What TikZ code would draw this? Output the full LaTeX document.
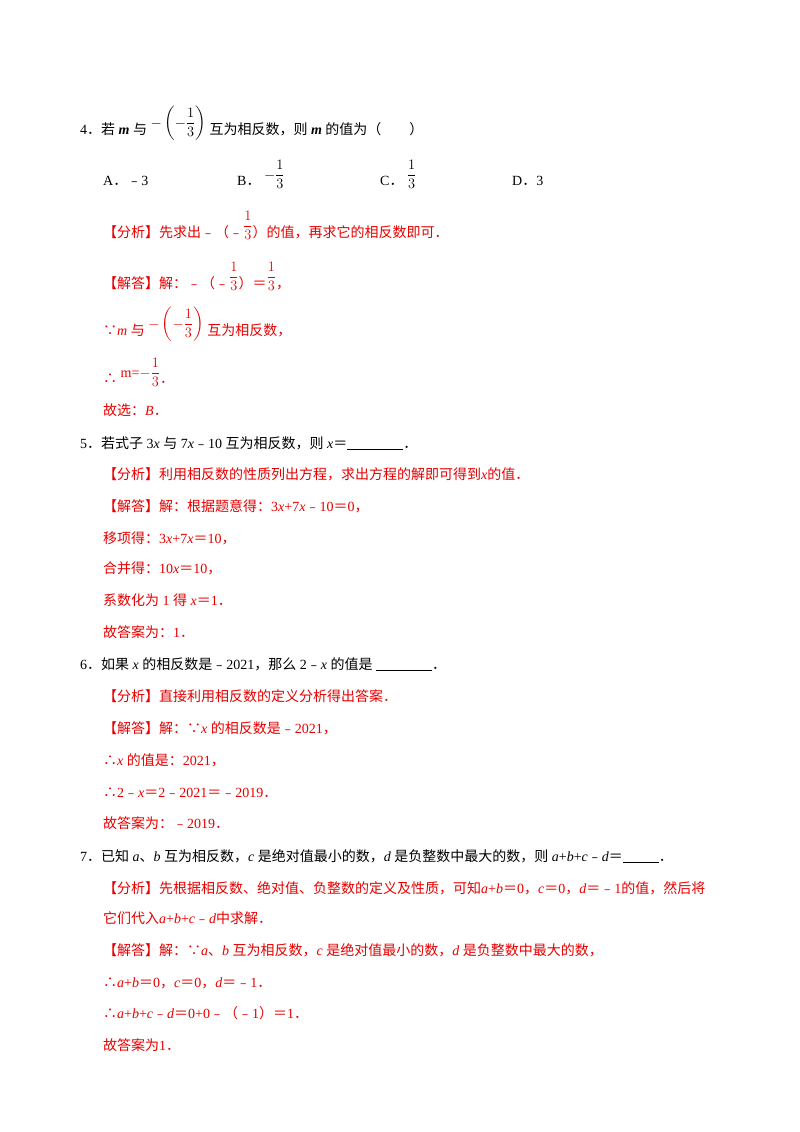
\documentclass[tikz,border=0pt]{standalone}
\usepackage{amsmath}
\usepackage{fontspec}
\setmainfont{Liberation Serif}
\newfontfamily\cjk{Noto Sans CJK SC}
\newcommand{\z}[1]{{\cjk #1}}
\newcommand{\fr}{\raisebox{7pt}{$-\left(-\dfrac{1}{3}\right)$}}
\newcommand{\blank}[1]{\rule[-2pt]{#1}{0.8pt}}
\definecolor{ans}{RGB}{230,0,0}
\begin{document}
\begin{tikzpicture}[x=1pt,y=-1pt,
  t/.style={anchor=base west,inner sep=0pt,font=\fontsize{14}{16}\selectfont},
  r/.style={t,text=ans}]
\useasboundingbox (0,0) rectangle (800,1132);
\fill[white] (0,0) rectangle (800,1132);
\node[t] (q4) at (80,134) {4\z{．若}~\textbf{\textit{m}}~\z{与}~\fr~\z{互为相反数，则}~\textbf{\textit{m}}~\z{的值为（　　）}};
\node[t] (a) at (103,185) {A\z{．﹣}3};
\node[t] (b) at (237,185) {B\z{．}~\raisebox{6pt}{$-\dfrac{1}{3}$}};
\node[t] (c) at (380,185) {C\z{．}~\raisebox{6pt}{$\dfrac{1}{3}$}};
\node[t] (d) at (512,185) {D\z{．}3};
\node[r] (f4) at (103,237) {\z{【分析】先求出﹣（﹣}\raisebox{7pt}{$\dfrac{1}{3}$}\z{）的值，再求它的相反数即可．}};
\node[r] (s4) at (103,288) {\z{【解答】解：﹣（﹣}\raisebox{7pt}{$\dfrac{1}{3}$}\z{）＝}\raisebox{7pt}{$\dfrac{1}{3}$}\z{，}};
\node[r] (s4b) at (103,335) {\z{∵}\textit{m}~\z{与}~\fr~\z{互为相反数，}};
\node[r] (s4c) at (103,383) {\z{∴}~\raisebox{6pt}{m=$-\dfrac{1}{3}$}\z{．}};
\node[r] (s4d) at (103,415) {\z{故选：}\textit{B}\z{．}};
\node[t] (q5) at (80,448) {5\z{．若式子}~3\textit{x}~\z{与}~7\textit{x}\z{﹣}10~\z{互为相反数，则}~\textit{x}\z{＝}\blank{56pt}\z{．}};
\node[r] at (103,479) {\z{【分析】利用相反数的性质列出方程，求出方程的解即可得到}\textit{x}\z{的值．}};
\node[r] at (103,511) {\z{【解答】解：根据题意得：}3\textit{x}+7\textit{x}\z{﹣}10\z{＝}0\z{，}};
\node[r] at (103,543) {\z{移项得：}3\textit{x}+7\textit{x}\z{＝}10\z{，}};
\node[r] at (103,573) {\z{合并得：}10\textit{x}\z{＝}10\z{，}};
\node[r] at (103,605) {\z{系数化为}~1~\z{得}~\textit{x}\z{＝}1\z{．}};
\node[r] at (103,637) {\z{故答案为：}1\z{．}};
\node[t] (q6) at (80,669) {6\z{．如果}~\textit{x}~\z{的相反数是﹣}2021\z{，那么}~2\z{﹣}\textit{x}~\z{的值是}~\blank{56pt}\z{．}};
\node[r] at (103,701) {\z{【分析】直接利用相反数的定义分析得出答案．}};
\node[r] at (103,733) {\z{【解答】解：∵}\textit{x}~\z{的相反数是﹣}2021\z{，}};
\node[r] at (103,765) {\z{∴}\textit{x}~\z{的值是：}2021\z{，}};
\node[r] at (103,797) {\z{∴}2\z{﹣}\textit{x}\z{＝}2\z{﹣}2021\z{＝﹣}2019\z{．}};
\node[r] at (103,828) {\z{故答案为：﹣}2019\z{．}};
\node[t] (q7) at (80,861) {7\z{．已知}~\textit{a}\z{、}\textit{b}~\z{互为相反数，}\textit{c}~\z{是绝对值最小的数，}\textit{d}~\z{是负整数中最大的数，则}~\textit{a}+\textit{b}+\textit{c}\z{﹣}\textit{d}\z{＝}\blank{36pt}\z{．}};
\node[r] at (103,893) {\z{【分析】先根据相反数、绝对值、负整数的定义及性质，可知}\textit{a}+\textit{b}\z{＝}0\z{，}\textit{c}\z{＝}0\z{，}\textit{d}\z{＝﹣}1\z{的值，然后将}};
\node[r] at (103,923) {\z{它们代入}\textit{a}+\textit{b}+\textit{c}\z{﹣}\textit{d}\z{中求解．}};
\node[r] at (103,955) {\z{【解答】解：∵}\textit{a}\z{、}\textit{b}~\z{互为相反数，}\textit{c}~\z{是绝对值最小的数，}\textit{d}~\z{是负整数中最大的数，}};
\node[r] at (103,987) {\z{∴}\textit{a}+\textit{b}\z{＝}0\z{，}\textit{c}\z{＝}0\z{，}\textit{d}\z{＝﹣}1\z{．}};
\node[r] at (103,1018) {\z{∴}\textit{a}+\textit{b}+\textit{c}\z{﹣}\textit{d}\z{＝}0+0\z{﹣（﹣}1\z{）＝}1\z{．}};
\node[r] at (103,1050) {\z{故答案为}1\z{．}};
\end{tikzpicture}
\end{document}
